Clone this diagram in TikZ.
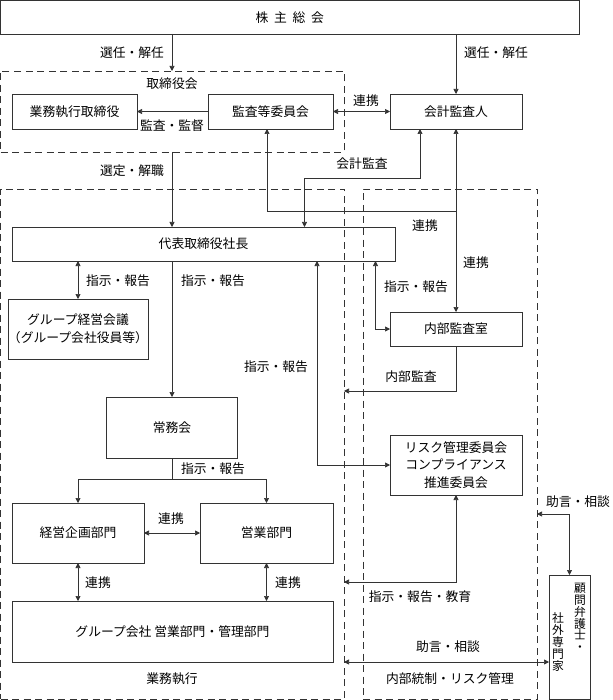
\documentclass[tikz,border=0pt]{standalone}
\usepackage{fontspec}
\setmainfont{Noto Sans CJK JP}
\usetikzlibrary{arrows.meta}
\definecolor{ln}{HTML}{333333}
\begin{document}
\begin{tikzpicture}[x=1pt,y=-1pt,
  box/.style={draw=ln,line width=0.8pt,inner sep=0pt,outer sep=0pt,align=center,
    font=\fontsize{12.8}{17.5}\selectfont},
  dashbox/.style={draw=ln,line width=0.8pt,dash pattern=on 7pt off 4.5pt,inner sep=0pt,outer sep=0pt},
  lbl/.style={inner sep=0pt,font=\fontsize{12.8}{15}\selectfont},
  vt/.style={inner sep=0pt,align=center,font=\fontsize{11.8}{11.8}\selectfont},
  line/.style={draw=ln,line width=0.7pt},
  arr/.style={line,-{Triangle[length=5pt,width=5pt]}},
  darr/.style={line,{Triangle[length=5pt,width=5pt]}-{Triangle[length=5pt,width=5pt]}}
]
\useasboundingbox (0,0) rectangle (612,700);

% group frames
\node[dashbox,minimum width=343.5pt,minimum height=81pt] (tb) at (172.25,111.5) {};
\node[dashbox,minimum width=343.5pt,minimum height=510pt] (lb) at (172.25,444) {};
\node[dashbox,minimum width=174pt,minimum height=510pt] (rb) at (450,444) {};

% boxes
\node[box,minimum width=578.5pt,minimum height=33.5pt] (sh) at (289.75,17.25) {株\hspace{0.45em}主\hspace{0.45em}総\hspace{0.45em}会};
\node[box,minimum width=125pt,minimum height=35pt] (gy) at (74.5,111.5) {業務執行取締役};
\node[box,minimum width=125pt,minimum height=35pt] (kt) at (270.5,111.5) {監査等委員会};
\node[box,minimum width=132pt,minimum height=35pt] (ka) at (456,111.5) {会計監査人};
\node[box,minimum width=383pt,minimum height=34pt] (dh) at (203.5,244) {代表取締役社長};
\node[box,minimum width=132pt,minimum height=60pt,font=\fontsize{12.8}{18}\selectfont] (gk) at (78,329) {グループ経営会議\\（グループ会社役員等）};
\node[box,minimum width=131.5pt,minimum height=61pt] (jm) at (172,427.5) {常務会};
\node[box,minimum width=132pt,minimum height=34pt] (nk) at (456,329) {内部監査室};
\node[box,minimum width=132pt,minimum height=60pt] (rk) at (456,465) {リスク管理委員会\\コンプライアンス\\推進委員会};
\node[box,minimum width=132pt,minimum height=60pt] (kk) at (78,533) {経営企画部門};
\node[box,minimum width=133pt,minimum height=60pt] (eg) at (266.5,533) {営業部門};
\node[box,minimum width=321pt,minimum height=61pt] (gc) at (172.5,631.5) {グループ会社 営業部門・管理部門};
\node[box,minimum width=41pt,minimum height=124pt] (km) at (569.5,637) {};
\node[vt] (km1) at (580,617.5) {顧\\問\\弁\\護\\士\\・};
\node[vt] (km2) at (558,642) {社\\外\\専\\門\\家};

% helper coordinates
\coordinate (xa) at (420,178);
\coordinate (xb) at (304.5,178);
\coordinate (ya) at (267,211);
\coordinate (rkx) at (317,465);
\coordinate (nkx) at (375.5,329);
\coordinate (nkd) at (456,391);
\coordinate (jmd) at (172,479);
\coordinate (rkd) at (456,582);
\coordinate (kmc) at (569.5,514);
\coordinate (hb) at (450,662);

% connectors
\draw[arr] (sh.south -| jm) -- (tb.north -| jm);
\draw[arr] (sh.south -| ka) -- (ka.north);
\draw[arr] (kt.west) -- (gy.east);
\draw[darr] (kt.east) -- (ka.west);
\draw[arr] (tb.south -| jm) -- (dh.north -| jm);
\draw[darr] (ka.south -| xa) -- (xa) -- (xb) -- (dh.north -| xb);
\draw[arr] (ya) -- (kt.south -| ya);
\draw[line] (ya) -- (ya -| ka);
\draw[darr] (ka.south) -- (nk.north);
\draw[darr] (dh.south -| gk) -- (gk.north);
\draw[arr] (dh.south -| jm) -- (jm.north);
\draw[darr] (dh.south -| rkx) -- (rkx) -- (rk.west);
\draw[darr] (dh.south -| nkx) -- (nkx) -- (nk.west);
\draw[arr] (nk.south) -- (nkd) -- (nkd -| lb.east);
\draw[line] (jm.south) -- (jmd);
\draw[arr] (jmd) -| (kk.north);
\draw[arr] (jmd) -| (eg.north);
\draw[darr] (kk.east) -- (eg.west);
\draw[darr] (kk.south) -- (gc.north -| kk);
\draw[darr] (eg.south) -- (gc.north -| eg);
\draw[darr] (rk.south) -- (rkd) -- (rkd -| lb.east);
\draw[darr] (km.north) -- (kmc) -- (kmc -| rb.east);
\draw[darr] (hb -| lb.east) -- (hb -| km.west);

% labels
\node[lbl] (l1) at (132,53) {選任・解任};
\node[lbl] (l2) at (496,53) {選任・解任};
\node[lbl] (l3) at (172,84) {取締役会};
\node[lbl] (l4) at (172,126) {監査・監督};
\node[lbl] (l5) at (366,101) {連携};
\node[lbl] (l6) at (132,171) {選定・解職};
\node[lbl] (l7) at (362,164) {会計監査};
\node[lbl] (l8) at (425,226) {連携};
\node[lbl] (l9) at (476,263) {連携};
\node[lbl] (l10) at (118,281) {指示・報告};
\node[lbl] (l11) at (213,281) {指示・報告};
\node[lbl] (l12) at (416,287) {指示・報告};
\node[lbl] (l13) at (276,367) {指示・報告};
\node[lbl] (l14) at (411,377) {内部監査};
\node[lbl] (l15) at (213,469) {指示・報告};
\node[lbl] (l16) at (171,519) {連携};
\node[lbl] (l17) at (98,583) {連携};
\node[lbl] (l18) at (288,583) {連携};
\node[lbl] (l19) at (420,597) {指示・報告・教育};
\node[lbl] (l20) at (578,502) {助言・相談};
\node[lbl] (l21) at (448,647) {助言・相談};
\node[lbl] (l22) at (172,679) {業務執行};
\node[lbl] (l23) at (450,679) {内部統制・リスク管理};
\end{tikzpicture}
\end{document}
